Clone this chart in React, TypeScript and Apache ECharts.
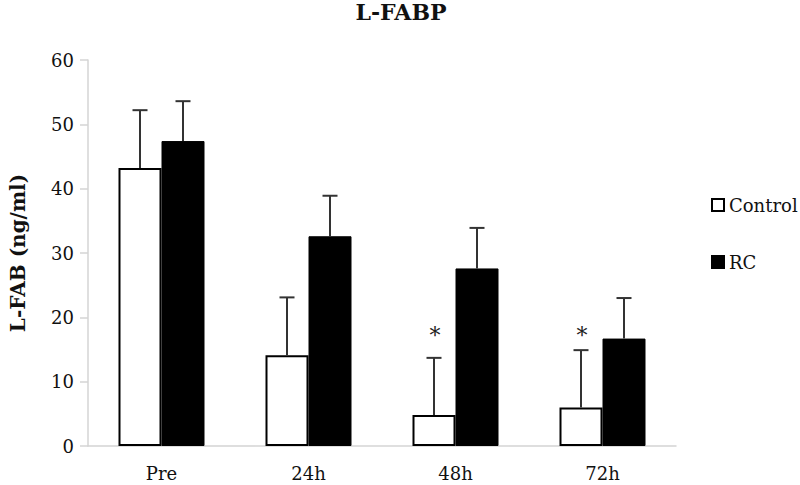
import React, { useEffect, useRef } from "react";
import * as echarts from "echarts";

const categories = ["Pre", "24h", "48h", "72h"];
const controlValues = [43.2, 14.1, 4.8, 6.0];
const controlErrors = [9.0, 9.0, 8.9, 8.9];
const rcValues = [47.4, 32.6, 27.6, 16.7];
const rcErrors = [6.2, 6.3, 6.3, 6.3];
const starCategories = [2, 3];
const starValue = 17.2;
const yTicks = { min: 0, max: 60, interval: 10 };

const BAR_W = 43;
const FONT = "DejaVu Serif";

export default function App() {
  const ref = useRef<HTMLDivElement>(null);
  useEffect(() => {
    document.body.style.margin = "0";
    if (!ref.current) return;
    const chart = echarts.init(ref.current, null, { renderer: "svg" });

    const errData: number[][] = [];
    controlValues.forEach((v, i) => errData.push([i, v, v + controlErrors[i], -1]));
    rcValues.forEach((v, i) => errData.push([i, v, v + rcErrors[i], 1]));

    chart.setOption({
      animation: false,
      backgroundColor: "#fff",
      title: {
        text: "L-FABP",
        left: 396,
        textAlign: "center",
        top: -4,
        textStyle: { fontFamily: FONT, fontWeight: "bold", fontSize: 22, color: "#111" },
      },
      legend: {
        orient: "vertical",
        left: 706,
        top: 191,
        itemWidth: 12,
        itemHeight: 12,
        itemGap: 39,
        icon: "rect",
        textStyle: { fontFamily: FONT, fontSize: 18, color: "#111" },
        data: ["Control", "RC"],
      },
      grid: { left: 78, right: 124, top: 60, bottom: 39 },
      xAxis: {
        type: "category",
        data: categories,
        axisLine: { lineStyle: { color: "#d4d4d4", width: 1.5 } },
        axisTick: { show: false },
        axisLabel: { fontFamily: FONT, fontSize: 18, color: "#111", margin: 18 },
      },
      yAxis: {
        type: "value",
        min: yTicks.min,
        max: yTicks.max,
        interval: yTicks.interval,
        axisLine: { show: true, lineStyle: { color: "#d4d4d4", width: 1.5 } },
        axisTick: { show: true, length: 8, lineStyle: { color: "#d4d4d4", width: 1.5 } },
        splitLine: { show: false },
        axisLabel: { fontFamily: FONT, fontSize: 18, color: "#111", margin: 14 },
        name: "L-FAB (ng/ml)",
        nameLocation: "middle",
        nameGap: 60,
        nameTextStyle: { fontFamily: FONT, fontWeight: "bold", fontSize: 20, color: "#111" },
      },
      series: [
        {
          name: "Control",
          type: "bar",
          data: controlValues,
          barWidth: BAR_W,
          barGap: "0%",
          itemStyle: { color: "#fff", borderColor: "#000", borderWidth: 2 },
        },
        {
          name: "RC",
          type: "bar",
          data: rcValues,
          barWidth: BAR_W,
          barGap: "0%",
          itemStyle: { color: "#000", borderColor: "#000", borderWidth: 1 },
        },
        {
          name: "err",
          type: "custom",
          data: errData,
          z: 5,
          renderItem: (params: any, api: any) => {
            const idx = api.value(0);
            const side = api.value(3);
            const base = api.coord([idx, api.value(1)]);
            const top = api.coord([idx, api.value(2)]);
            const x = base[0] + side * (BAR_W / 2);
            const capHalf = 7.5;
            const style = { stroke: "#333", lineWidth: 2 };
            return {
              type: "group",
              children: [
                { type: "line", shape: { x1: x, y1: base[1], x2: x, y2: top[1] }, style },
                { type: "line", shape: { x1: x - capHalf, y1: top[1], x2: x + capHalf, y2: top[1] }, style },
              ],
            };
          },
        },
        {
          name: "star",
          type: "custom",
          data: starCategories.map((c) => [c, starValue]),
          z: 6,
          renderItem: (params: any, api: any) => {
            const p = api.coord([api.value(0), api.value(1)]);
            return {
              type: "text",
              x: p[0] - BAR_W / 2 + 1,
              y: p[1],
              style: {
                text: "*",
                fontFamily: FONT,
                fontSize: 22,
                fill: "#222",
                align: "center",
                verticalAlign: "middle",
              },
            };
          },
        },
      ],
    });
    return () => chart.dispose();
  }, []);
  return <div ref={ref} style={{ width: 800, height: 485 }} />;
}
